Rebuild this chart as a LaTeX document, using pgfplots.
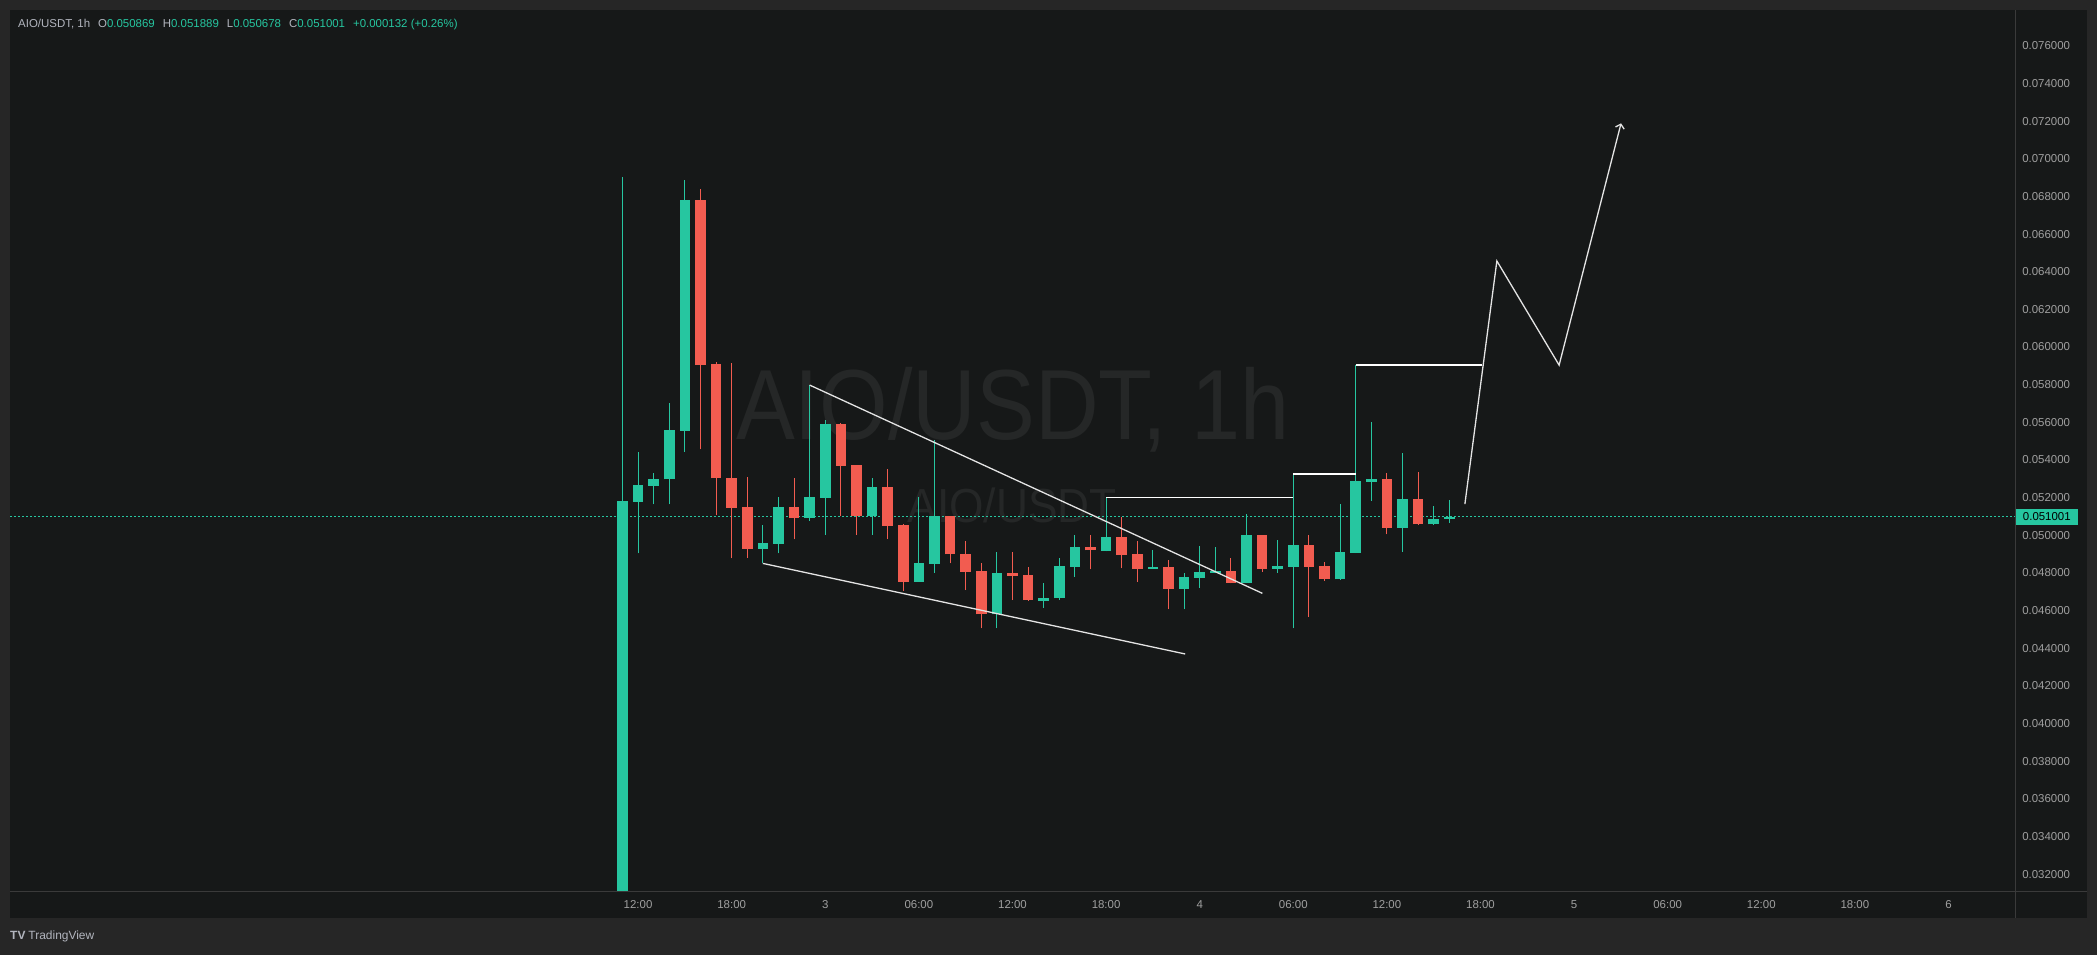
\documentclass[border=0pt]{standalone}
\usepackage{pgfplots}
\pgfplotsset{compat=1.18}
\usepackage{pgfplotstable}
\usepackage{fontspec}
\setmainfont{Liberation Sans}
\usetikzlibrary{arrows.meta}
\definecolor{up}{HTML}{26C6A0}
\definecolor{dn}{HTML}{F25C50}
\definecolor{panel}{HTML}{161818}
\definecolor{outer}{HTML}{262626}
\definecolor{sep}{HTML}{3A3A3A}
\definecolor{tick}{HTML}{A0A0A0}
\definecolor{hdr}{HTML}{B2B5BE}
\definecolor{wm}{HTML}{252727}
\definecolor{drw}{HTML}{E4E4E4}

\pgfplotstableread{
t open high low close
11 0.03000 0.06905 0.03000 0.05184
12 0.05178 0.05441 0.04904 0.05267
13 0.05264 0.05329 0.05164 0.05299
14 0.05297 0.05701 0.05164 0.05559
15 0.05556 0.06887 0.05444 0.06781
20 0.04929 0.05055 0.04851 0.04957
21 0.04955 0.05202 0.04904 0.05150
23 0.05094 0.05798 0.05078 0.05202
24 0.05200 0.05612 0.05002 0.05591
27 0.05102 0.05302 0.05002 0.05256
30 0.04754 0.05202 0.04754 0.04851
31 0.04849 0.05506 0.04801 0.05102
35 0.04580 0.04909 0.04506 0.04798
38 0.04653 0.04745 0.04616 0.04665
39 0.04665 0.04878 0.04656 0.04837
40 0.04833 0.05002 0.04780 0.04936
42 0.04918 0.05205 0.04915 0.04989
45 0.04823 0.04922 0.04821 0.04830
47 0.04717 0.04798 0.04607 0.04777
48 0.04775 0.04943 0.04722 0.04803
49 0.04801 0.04936 0.04798 0.04810
51 0.04748 0.05113 0.04745 0.05002
53 0.04823 0.04975 0.04801 0.04837
54 0.04833 0.05325 0.04506 0.04948
57 0.04766 0.05166 0.04763 0.04912
58 0.04908 0.05904 0.04905 0.05288
59 0.05285 0.05600 0.05184 0.05297
61 0.05040 0.05435 0.04913 0.05191
63 0.05058 0.05156 0.05055 0.05085
64 0.050869 0.051889 0.050678 0.051001
}\greentab

\pgfplotstableread{
t open high low close
16 0.06781 0.06837 0.05456 0.05906
17 0.05910 0.05920 0.05106 0.05302
18 0.05302 0.05917 0.04878 0.05147
19 0.05150 0.05308 0.04881 0.04929
22 0.05150 0.05302 0.04979 0.05094
25 0.05591 0.05595 0.05102 0.05370
26 0.05373 0.05376 0.05002 0.05102
28 0.05256 0.05352 0.04980 0.05051
29 0.05055 0.05058 0.04704 0.04754
32 0.05102 0.05105 0.04851 0.04899
33 0.04899 0.04970 0.04709 0.04807
34 0.04810 0.04851 0.04506 0.04580
36 0.04798 0.04909 0.04656 0.04786
37 0.04789 0.04830 0.04653 0.04656
41 0.04938 0.05002 0.04819 0.04920
43 0.04989 0.05095 0.04825 0.04895
44 0.04901 0.04970 0.04754 0.04821
46 0.04830 0.04869 0.04607 0.04717
50 0.04810 0.04878 0.04745 0.04748
52 0.05002 0.05004 0.04807 0.04821
55 0.04948 0.05002 0.04568 0.04833
56 0.04837 0.04860 0.04759 0.04766
60 0.05297 0.05329 0.05005 0.05040
62 0.05191 0.05334 0.05055 0.05058
}\redtab

\begin{document}
\begin{tikzpicture}[x=1bp,y=1bp]
\fill[outer] (0,0) rectangle (2097,955);
\fill[panel] (10,37) rectangle (2087,945);
% watermark
\node[anchor=base, text=wm, font=\fontsize{100}{100}\selectfont, inner sep=0] at (1013,515) {\scalebox{0.885}[1]{AIO/USDT, 1h}};
\node[anchor=base, text=wm, font=\fontsize{48}{48}\selectfont, inner sep=0] at (1012,432) {\scalebox{0.925}[1]{AIO/USDT}};

\begin{axis}[
  at={(10bp,63bp)}, anchor=south west, scale only axis,
  width=2005.7bp, height=882bp,
  xmin=-28.26, xmax=100.31, ymin=0.03106, ymax=0.0779,
  axis line style={draw=none}, major tick length=0pt,
  xtick={12,18,...,96},
  xticklabels={12:00,18:00,3,06:00,12:00,18:00,4,06:00,12:00,18:00,5,06:00,12:00,18:00,6},
  ytick={0.032,0.034,0.036,0.038,0.040,0.042,0.044,0.046,0.048,0.050,0.052,0.054,0.056,0.058,0.060,0.062,0.064,0.066,0.068,0.070,0.072,0.074,0.076},
  scaled y ticks=false,
  yticklabel pos=right,
  tick label style={font=\fontsize{11.5}{12}\selectfont, text=tick},
  yticklabel style={anchor=west, xshift=3bp, /pgf/number format/fixed, /pgf/number format/fixed zerofill, /pgf/number format/precision=6, /pgf/number format/assume math mode=true},
  xticklabel style={yshift=-5bp},
  clip=true,
]
\addplot[up, line width=1bp, dash pattern=on 1.5bp off 2.5bp] coordinates {(-28.26,0.051001) (100.31,0.051001)};
\coordinate (pl) at (axis cs:100.31,0.051001);
% wicks
\addplot[draw=none, mark=none, error bars/.cd, y dir=plus, y explicit, error mark=none,
  error bar style={draw=up, line width=1bp, solid}]
  table[x=t, y=low, y error plus expr=\thisrow{high}-\thisrow{low}] {\greentab};
\addplot[draw=none, mark=none, error bars/.cd, y dir=plus, y explicit, error mark=none,
  error bar style={draw=dn, line width=1bp, solid}]
  table[x=t, y=low, y error plus expr=\thisrow{high}-\thisrow{low}] {\redtab};
% bodies
\addplot[draw=none, mark=none, error bars/.cd, y dir=plus, y explicit, error mark=none,
  error bar style={draw=up, line width=10.6bp, solid}]
  table[x=t, y=open, y error plus expr=\thisrow{close}-\thisrow{open}] {\greentab};
\addplot[draw=none, mark=none, error bars/.cd, y dir=plus, y explicit, error mark=none,
  error bar style={draw=dn, line width=10.6bp, solid}]
  table[x=t, y=close, y error plus expr=\thisrow{open}-\thisrow{close}] {\redtab};
% drawings
\addplot[drw, line width=1.3bp] coordinates {(23,0.05798) (52.02,0.04692)};
\addplot[drw, line width=1.3bp] coordinates {(20,0.04851) (47.07,0.04370)};
\addplot[white, line width=1.6bp] coordinates {(42,0.05202) (54,0.05202)};
\addplot[white, line width=1.6bp] coordinates {(54,0.05325) (58,0.05325)};
\addplot[white, line width=1.6bp] coordinates {(58,0.05904) (66.1,0.05904)};
\addplot[drw, line width=1.3bp, -{Straight Barb[length=4bp,width=9bp]}] coordinates {(65.0,0.05166) (67.05,0.06457) (71.04,0.05904) (75.01,0.07188)};
\end{axis}

\draw[sep, line width=1bp] (2015.7,37) -- (2015.7,945);
\draw[sep, line width=1bp] (10,63) -- (2087,63);
\node[fill=up, text=black, anchor=west, inner xsep=7bp, inner ysep=0pt, minimum height=16bp, font=\fontsize{11.5}{12}\selectfont] at (pl) {0.051001};

% header
\node[anchor=west, inner sep=0, font=\fontsize{11.5}{12}\selectfont] at (18,930)
 {{\color{hdr}AIO/USDT, 1h\hspace{8bp}O}{\color{up}0.050869}\hspace{8bp}{\color{hdr}H}{\color{up}0.051889}\hspace{8bp}{\color{hdr}L}{\color{up}0.050678}\hspace{8bp}{\color{hdr}C}{\color{up}0.051001}\hspace{8bp}{\color{up}+0.000132 (+0.26\%)}};
% footer
\node[anchor=west, inner sep=0, text=hdr, font=\fontsize{12}{12}\selectfont] at (10,19) {\textbf{TV}\hspace{3bp}TradingView};
\end{tikzpicture}
\end{document}
